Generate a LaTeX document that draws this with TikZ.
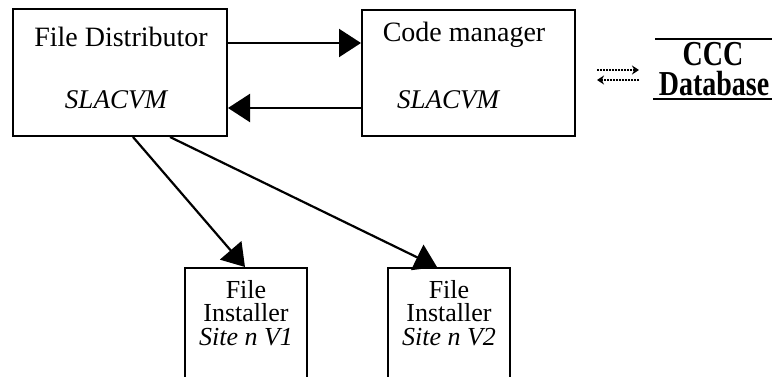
\documentclass[tikz,border=0pt]{standalone}
\usepackage{fontspec}
\setmainfont{Liberation Serif}
\usetikzlibrary{arrows.meta,calc}
\begin{document}
\begin{tikzpicture}[x=1pt,y=-1pt,
  box/.style={draw,line width=2pt,rectangle,inner sep=0pt},
  big/.style={font=\fontsize{28}{30}\selectfont},
  bigit/.style={font=\fontsize{27}{30}\selectfont\itshape},
  inst/.style={font=\fontsize{26}{28}\selectfont,inner sep=0pt},
  dbt/.style={font=\fontsize{28}{30}\selectfont\bfseries,inner sep=0pt},
  conn/.style={line width=2.2pt,-{Triangle[length=22pt,width=28pt]}},
  small/.style={line width=1.1pt,dash pattern=on 2pt off 1pt,-{Stealth[length=7pt,width=9pt]}}]
\clip (0,0) rectangle (772,377);
\fill[white] (0,0) rectangle (772,377);
% boxes
\node[box,minimum width=214pt,minimum height=127pt] (fd) at (120,72.5) {};
\node[box,minimum width=213pt,minimum height=126pt] (cm) at (468.5,73) {};
\node[box,minimum width=122pt,minimum height=130pt] (i1) at (246,333) {};
\node[box,minimum width=122pt,minimum height=130pt] (i2) at (449,333) {};
% texts
\node[big] (fdt) at (121,37) {File Distributor};
\node[bigit] (fds) at (116,100) {SLACVM};
\node[big] (cmt) at (464,35) {Code manager};
\node[bigit] (cms) at (448,100) {SLACVM};
\node[inst] (i1a) at (246,290) {File};
\node[inst] (i1b) at (246,313) {Installer};
\node[inst] (i1c) at (246,337) {\itshape Site n V1};
\node[inst] (i2a) at (449,290) {File};
\node[inst] (i2b) at (449,313) {Installer};
\node[inst] (i2c) at (449,337) {\itshape Site n V2};
% database
\coordinate (dbtl) at (655,39);
\coordinate (dbtr) at (772,39);
\coordinate (dbbl) at (653,99);
\coordinate (dbbr) at (772,99);
\draw[line width=2.6pt] (dbtl) -- (dbtr);
\draw[line width=2.6pt] (dbbl) -- (dbbr);
\node[dbt] (ccc) at (713,54) {\scalebox{1}[1.25]{CCC}};
\node[dbt] (db) at (714,84) {\scalebox{1}[1.25]{Database}};
% small arrows
\coordinate (sa1) at (597,70);
\coordinate (sa2) at (639,70);
\coordinate (sb1) at (639,80);
\coordinate (sb2) at (597,80);
\draw[small] (sa1) -- (sa2);
\draw[small] (sb1) -- (sb2);
% connectors
\draw[conn] ([yshift=29.5pt]fd.east) -- ([yshift=30pt]cm.west);
\draw[conn] ([yshift=-35pt]cm.west) -- ([yshift=-35.5pt]fd.east);
\draw[conn] ([xshift=13pt]fd.south) -- ([xshift=-1pt]i1.north);
\draw[conn] ([xshift=50pt]fd.south) -- ([xshift=-12pt]i2.north);
\end{tikzpicture}
\end{document}
